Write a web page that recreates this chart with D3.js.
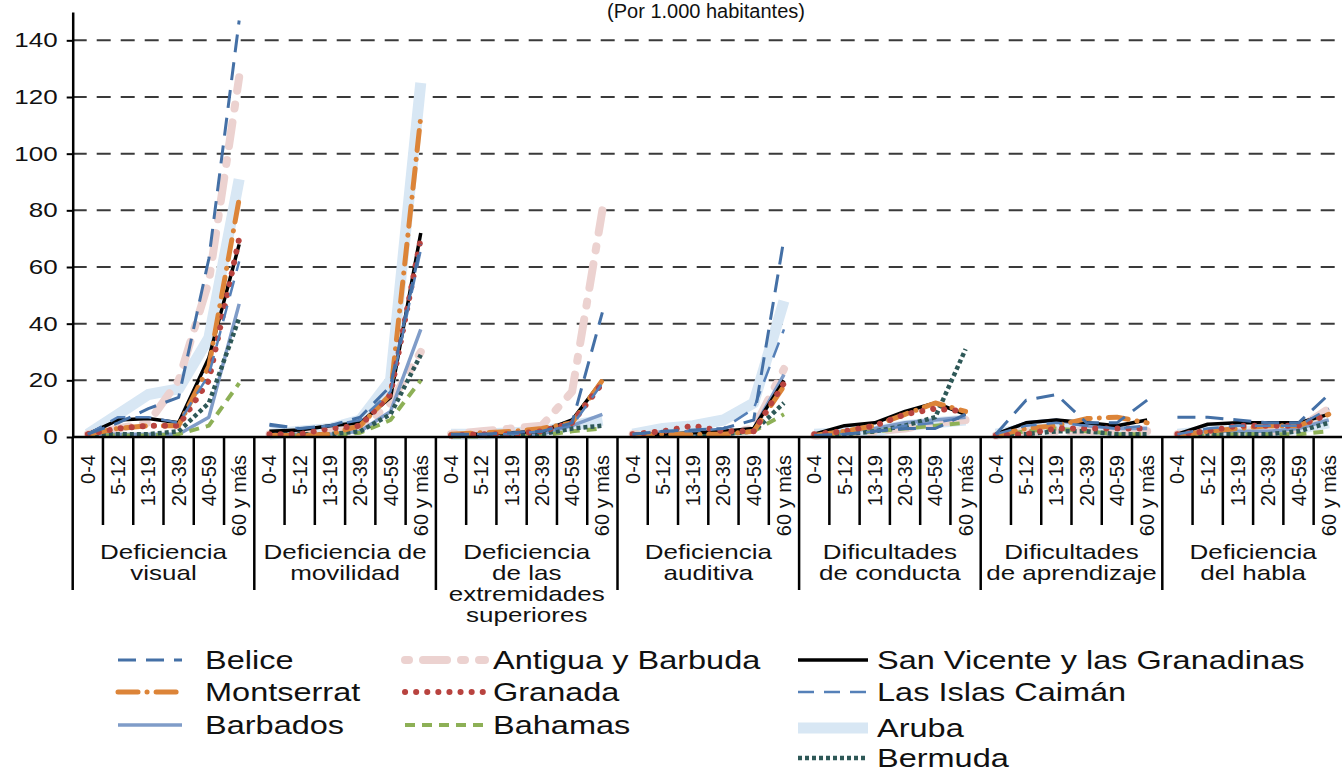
<!DOCTYPE html>
<html>
<head>
<meta charset="utf-8">
<script src="https://cdn.jsdelivr.net/npm/d3@7"></script>
<style>
  body { margin: 0; background: #fff; }
  svg { display: block; }
  text { font-family: "Liberation Sans", Arial, sans-serif; fill: #111; }
</style>
</head>
<body>
<svg id="chart" width="1342" height="774"></svg>
<script>
// categories (multi-line labels) and age groups
var categories = [
  "Deficiencia\nvisual",
  "Deficiencia de\nmovilidad",
  "Deficiencia\nde las\nextremidades\nsuperiores",
  "Deficiencia\nauditiva",
  "Dificultades\nde conducta",
  "Dificultades\nde aprendizaje",
  "Deficiencia\ndel habla"
];
var ages = ["0-4", "5-12", "13-19", "20-39", "40-59", "60 y más"];
var yTicks = [0, 20, 40, 60, 80, 100, 120, 140];

// values per 1.000 inhabitants, one row per category, one column per age group
var belice = [
  [1, 5, 10, 14, 63, 147], [4.5, 3, 4, 7, 18, 68], [1, 1, 1.5, 2, 5, 44],
  [1, 2, 2.5, 3, 6, 70], [0.5, 1, 2, 3, 3, 8], [1, 13, 15, 5, 5, 13], [7, 7, 6, 5, 5, 15]
];
var montserrat = [
  [1, 3, 4, 4, 25, 84], [0.5, 0.5, 1, 4, 15, 113], [1, 1.5, 2, 3, 5, 20],
  [0.5, 1, 1, 1, 2, 18], [0.5, 2, 4, 8, 12, 9], [0.5, 3, 4, 6.5, 7, 5], [0.5, 2, 3, 4, 4, 8]
];
var barbados = [
  [1, 1, 1, 1, 7, 47], [1, 1, 1, 2, 9, 38], [0.5, 0.5, 1, 1, 4, 8],
  [1, 1, 1, 1.5, 3, 22], [1, 2, 3, 5, 6, 7], [1, 5, 6, 4, 3, 3], [1, 2, 2, 2, 3, 6]
];
var antigua = [
  [1, 3, 5, 20, 55, 127], [1, 1, 2, 3, 12, 30], [1, 2, 3, 4, 16, 80],
  [1, 1, 1, 1, 3, 24], [0.5, 1, 2, 3, 5, 6], [0.5, 2, 2, 2, 2, 2], [1, 1, 2, 2, 3, 10]
];
var granada = [
  [1, 3, 4, 4, 20, 70], [1, 1, 3, 4, 15, 70], [0.5, 1, 1, 2, 5, 19],
  [1, 2, 4, 2, 2, 19], [1, 2, 4, 8, 10, 9], [0.5, 1, 3, 3, 3, 3], [1, 2, 4, 4, 4, 8]
];
var bahamas = [
  [0.5, 0.5, 0.5, 1, 4, 19], [0.5, 0.5, 0.5, 1.5, 6, 20], [0.2, 0.2, 0.5, 0.5, 2, 3],
  [0.5, 0.5, 0.5, 1, 2, 8], [0.5, 1, 2, 3, 4, 5], [0.5, 2, 3, 2, 1, 1], [0.5, 0.5, 1, 1, 1, 2]
];
var sanVicente = [
  [1, 6, 6.5, 5, 28, 68], [2, 2.5, 4, 5, 14, 72], [1, 1, 1.5, 2, 6, 20],
  [1, 1, 1.5, 2, 3, 20], [1, 4, 5, 9, 12, 8], [1, 5, 6, 5, 4, 6], [1, 4.5, 5, 5, 5, 8]
];
var caiman = [
  [1, 7, 7, 5, 22, 62], [4, 3, 4, 6, 16, 66], [0.5, 1, 1, 2, 4, 19],
  [1, 2, 2, 3, 10, 38], [0.5, 1, 2, 4, 5, 7], [1, 4, 5, 4, 3, 4], [1, 3, 4, 4, 4, 10]
];
var aruba = [
  [1, 8, 15, 17, 35, 91], [1, 2, 3, 6, 20, 125], [1, 1, 1.5, 2, 4, 6],
  [1, 3, 4, 6, 12, 48], [1, 1.5, 2, 4, 5, 6], [1, 3, 4, 3, 2, 2], [1, 2, 2, 2, 3, 5]
];
var bermuda = [
  [1, 1, 1, 2, 12, 42], [1, 1, 1, 2, 8, 29], [0.5, 0.5, 0.5, 1, 3, 4],
  [0.5, 0.5, 1, 1, 2, 12], [0.5, 1, 2, 4, 7, 31], [0.5, 1, 2, 2, 1, 1], [1, 1, 1, 1, 2, 5]
];

// series styles; col/row = legend slot
var series = [
  {name: "Aruba", values: aruba, color: "#d8e7f4", width: 11, dash: null, cap: "butt", col: 2, row: 2},
  {name: "Antigua y Barbuda", values: antigua, color: "#ecd2d0", width: 8, dash: "4,14,24,14", cap: "round", col: 1, row: 0},
  {name: "Barbados", values: barbados, color: "#7f9cc8", width: 3.5, dash: null, cap: "butt", col: 0, row: 2},
  {name: "Bahamas", values: bahamas, color: "#8db056", width: 4, dash: "10,7", cap: "butt", col: 1, row: 2},
  {name: "Bermuda", values: bermuda, color: "#2e5857", width: 4.5, dash: "4,3", cap: "butt", col: 2, row: 3},
  {name: "San Vicente y las Granadinas", values: sanVicente, color: "#000", width: 3.5, dash: null, cap: "butt", col: 2, row: 0},
  {name: "Montserrat", values: montserrat, color: "#dc8438", width: 5, dash: "20,9,0.1,9", cap: "round", col: 0, row: 1},
  {name: "Granada", values: granada, color: "#b8433f", width: 6, dash: "0.1,11", cap: "round", col: 1, row: 1},
  {name: "Las Islas Caimán", values: caiman, color: "#5580b8", width: 2.5, dash: "16,10", cap: "butt", col: 2, row: 1},
  {name: "Belice", values: belice, color: "#4470a6", width: 3, dash: "18,10", cap: "butt", col: 0, row: 0}
];

var svg = d3.select("#chart");
var sx = 1.3;          // horizontal stretch of the original picture's text
var x0 = 72.7, catW = 181.6, axisY = 437;

var cat = d3.scaleBand().domain(d3.range(categories.length))
    .range([x0, x0 + catW * categories.length]);
var age = d3.scaleBand().domain(ages).range([0, cat.bandwidth()]);
var y = d3.scaleLinear().domain([0, 150]).range([axisY, 12]);

function px(ci, a) { return cat(ci) + age(a) + age.bandwidth() / 2; }

// title
svg.append("text")
    .attr("x", 706).attr("y", 18)
    .attr("text-anchor", "middle")
    .attr("font-size", 20)
    .text("(Por 1.000 habitantes)");

// dashed gridlines
svg.append("g").selectAll("line")
  .data(yTicks.filter(function(v) { return v > 0; }))
  .join("line")
    .attr("x1", x0).attr("x2", 1342)
    .attr("y1", function(d) { return y(d); })
    .attr("y2", function(d) { return y(d); })
    .attr("stroke", "#3a3a3a")
    .attr("stroke-width", 2)
    .attr("stroke-dasharray", "14,10");

// series
var line = d3.line()
    .x(function(d) { return d.x; })
    .y(function(d) { return y(d.v); });

var plot = svg.append("g");
series.forEach(function(s) {
  var g = plot.append("g")
      .attr("fill", "none")
      .attr("stroke", s.color)
      .attr("stroke-width", s.width)
      .attr("stroke-linecap", s.cap)
      .attr("stroke-linejoin", "round")
      .attr("stroke-dasharray", s.dash);
  s.values.forEach(function(row, ci) {
    var pts = ages.map(function(a, ai) { return {x: px(ci, a), v: row[ai]}; });
    g.append("path").attr("d", line(pts));
  });
});

// y axis
var yAxis = svg.append("g")
    .attr("transform", "translate(" + x0 + ",0)")
    .call(d3.axisLeft(y).tickValues(yTicks).tickSize(6).tickSizeOuter(0));
yAxis.attr("font-size", null).attr("font-family", null);
yAxis.select(".domain").attr("stroke", "#000").attr("stroke-width", 2.5);
yAxis.selectAll(".tick line").attr("stroke", "#000").attr("stroke-width", 2);
yAxis.selectAll(".tick text")
    .attr("x", -15 / sx)
    .attr("transform", "scale(" + sx + ",1)")
    .attr("font-size", 20)
    .attr("fill", "#111");

// x axis: baseline, dividers, labels
var xAxis = svg.append("g").attr("stroke", "#000");
xAxis.append("line")
    .attr("x1", x0).attr("x2", cat.range()[1])
    .attr("y1", y(0)).attr("y2", y(0))
    .attr("stroke-width", 2.5);

var dividers = d3.range(categories.length + 1).map(function(i) {
  return x0 + i * cat.step();
});
xAxis.selectAll("line.cat").data(dividers).join("line")
    .attr("class", "cat")
    .attr("x1", function(d) { return d; }).attr("x2", function(d) { return d; })
    .attr("y1", y(0)).attr("y2", 590)
    .attr("stroke-width", 2.5);

categories.forEach(function(c, ci) {
  xAxis.selectAll(null).data(ages.slice(1)).join("line")
      .attr("x1", function(a) { return cat(ci) + age(a); })
      .attr("x2", function(a) { return cat(ci) + age(a); })
      .attr("y1", y(0)).attr("y2", 525)
      .attr("stroke-width", 2.5);

  svg.append("g").selectAll("text").data(ages).join("text")
      .attr("transform", function(a) { return "translate(" + px(ci, a) + ",455) rotate(-90)"; })
      .attr("dy", ".35em")
      .attr("text-anchor", "end")
      .attr("font-size", 20)
      .text(function(a) { return a; });

  var cx = cat(ci) + cat.bandwidth() / 2;
  svg.append("g")
      .attr("transform", "translate(" + cx + ",0) scale(" + sx + ",1)")
    .selectAll("text").data(c.split("\n")).join("text")
      .attr("x", 0)
      .attr("y", function(d, i) { return 559 + i * 21; })
      .attr("text-anchor", "middle")
      .attr("font-size", 20)
      .text(function(d) { return d; });
});

// legend
var legCols = [
  {x1: 118, x2: 182, tx: 205},
  {x1: 405, x2: 485, tx: 493},
  {x1: 798, x2: 868, tx: 877}
];
var legRows = [[669, 701, 734], [669, 701, 734], [669, 701, 737, 767]];

var legend = svg.append("g");
series.forEach(function(s) {
  var c = legCols[s.col];
  var ly = legRows[s.col][s.row];
  legend.append("line")
      .attr("x1", c.x1).attr("x2", c.x2)
      .attr("y1", ly - 9).attr("y2", ly - 9)
      .attr("stroke", s.color)
      .attr("stroke-width", s.width)
      .attr("stroke-linecap", s.cap)
      .attr("stroke-dasharray", s.dash);
  legend.append("text")
      .attr("transform", "translate(" + c.tx + "," + ly + ") scale(" + sx + ",1)")
      .attr("font-size", 25)
      .text(s.name);
});
</script>
</body>
</html>
